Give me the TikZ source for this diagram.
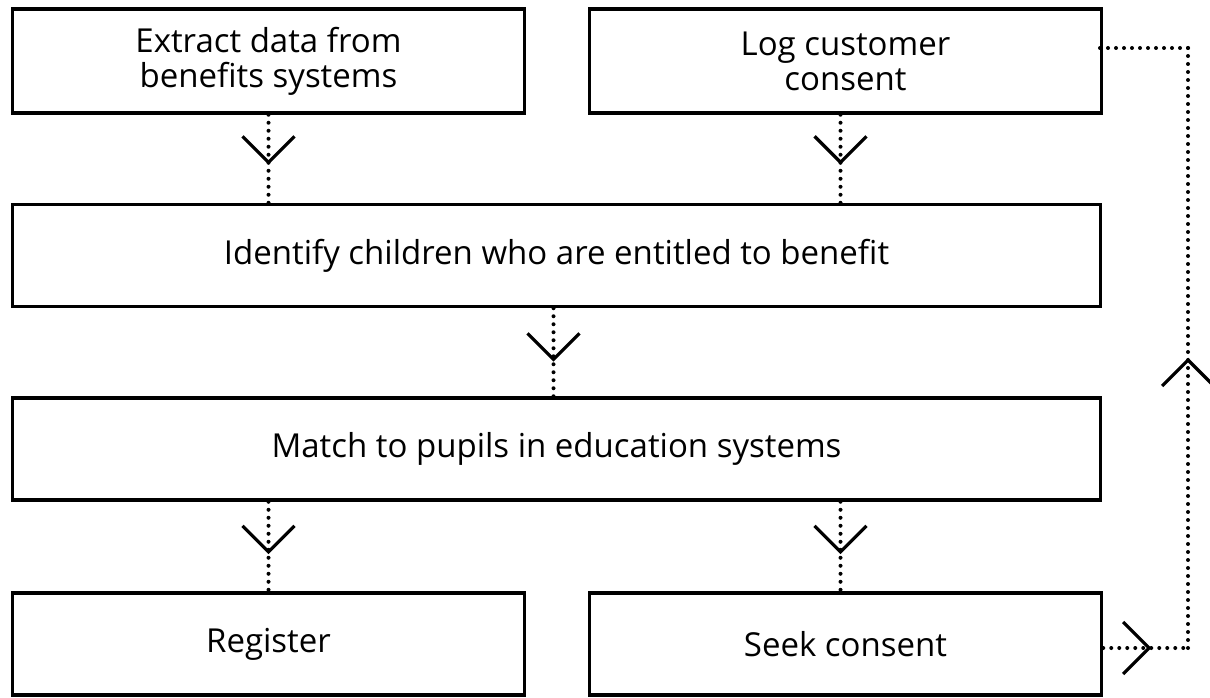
\documentclass[tikz,border=0pt]{standalone}
\usepackage{fontspec}
\setmainfont{Open Sans}
\usetikzlibrary{decorations.markings}
\tikzset{
  box/.style={draw, line width=3.5pt, inner sep=0pt, font=\fontsize{33}{35}\selectfont, align=center, minimum height=102pt},
  halfbox/.style={box, minimum width=512pt},
  fullbox/.style={box, minimum width=1088pt},
  conn/.style={line width=4pt, dash pattern=on 0pt off 8pt, line cap=round},
  vmark/.style={postaction={decorate, decoration={markings, mark=at position #1 with {\draw[solid, line width=3.2pt, line cap=butt, line join=miter] (-26pt,26pt) -- (0pt,0pt) -- (-26pt,-26pt);}}}}
}
\begin{document}
\begin{tikzpicture}[x=1pt,y=-1pt]
\useasboundingbox (0,0) rectangle (1210,698);
\node[halfbox, minimum height=104pt] (A) at (268.5,61) {Extract data from\\benefits systems};
\node[halfbox, minimum height=104pt] (B) at (845.5,61) {Log customer\\consent};
\node[fullbox] (C) at (556.5,255.5) {Identify children who are entitled to benefit};
\node[fullbox] (D) at (556.5,449) {Match to pupils in education systems};
\node[halfbox] (E) at (268.5,644) {Register};
\node[halfbox] (F) at (845.5,644) {Seek consent};
\coordinate (R) at (1188,0);
\draw[conn, vmark=0.54] (A.south) -- (A.south |- C.north);
\draw[conn, vmark=0.54] ([xshift=-5pt]B.south) -- ([xshift=-5pt]B.south |- C.north);
\draw[conn, vmark=0.58] ([xshift=-3pt]C.south) -- ([xshift=-3pt]C.south |- D.north);
\draw[conn, vmark=0.56] (E.north |- D.south) -- (E.north);
\draw[conn, vmark=0.56] ([xshift=-5pt]F.north |- D.south) -- ([xshift=-5pt]F.north);
\draw[conn, vmark=0.54] ([yshift=-4pt]F.east) -- ([yshift=-4pt]F.east -| R);
\draw[conn, vmark=0.48] ([yshift=-4pt]F.east -| R) -- ([yshift=13pt]B.east -| R);
\draw[conn] ([yshift=13pt]B.east -| R) -- ([xshift=-4pt,yshift=13pt]B.east);
\end{tikzpicture}
\end{document}
